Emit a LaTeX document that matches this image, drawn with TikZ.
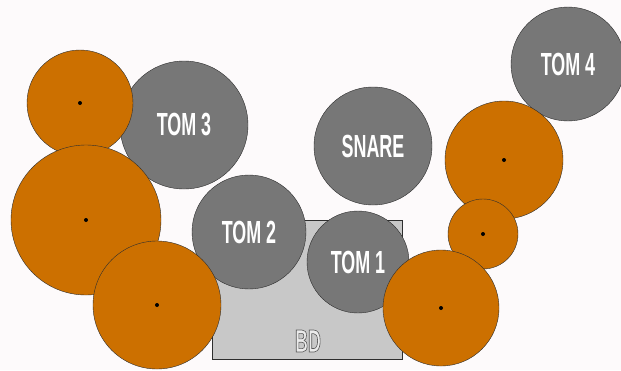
\documentclass[tikz,border=0pt]{standalone}
\usepackage{fontspec}
\newfontfamily\drumfont[FakeStretch=0.56]{Liberation Sans}
\definecolor{paper}{HTML}{FDFAFB}
\definecolor{edge}{HTML}{2E2E2E}
\definecolor{tomgray}{HTML}{777777}
\definecolor{kickgray}{HTML}{C8C8C8}
\definecolor{cymorange}{HTML}{CC7000}
\newcommand{\outlined}[1]{\special{pdf:literal 0.35 0.35 0.35 RG 0.6 w 2 Tr}#1\special{pdf:literal 0 Tr}}
\begin{document}
\begin{tikzpicture}[
    x=1pt, y=-1pt,
    drumtext/.style={text=white, font=\drumfont\bfseries\fontsize{32}{32}\selectfont},
    kick/.style={rectangle, draw=edge, fill=kickgray, inner sep=0pt, minimum width=190pt, minimum height=139pt},
    tom/.style={circle, draw=edge, fill=tomgray, inner sep=0pt, minimum size=#1pt, drumtext},
    cymbal/.style={circle, draw=edge, fill=cymorange, inner sep=0pt, minimum size=#1pt},
    hub/.style={fill=black}
]
    \fill [paper] (0,0) rectangle (621,370);
    \useasboundingbox (0,0) rectangle (621,370);

    % bass drum
    \node [kick] (bd) at (307,290) {};
    \node [drumtext, text=white!92!black] (bdlabel) at (308,341) {\outlined{BD}};

    % toms and snare
    \node [tom=128] (tom3) at (184,125) {TOM 3};
    \node [tom=114] (tom2) at (249,232) {TOM 2};
    \node [tom=118] (snare) at (373,146) {SNARE};
    \node [tom=102] (tom1) at (358,262) {TOM 1};
    \node [tom=114] (tom4) at (568,64) {TOM 4};

    % cymbals
    \node [cymbal=106] (hihat) at (80,103) {};
    \node [cymbal=150] (crashL) at (86,220) {};
    \node [cymbal=128] (crashB) at (157,305) {};
    \node [cymbal=118] (ride) at (504,160) {};
    \node [cymbal=70] (splash) at (483,234) {};
    \node [cymbal=116] (china) at (441,308) {};

    \foreach \c in {hihat, crashL, crashB, ride, splash, china}
        \fill [hub] (\c.center) circle (2);
\end{tikzpicture}
\end{document}
